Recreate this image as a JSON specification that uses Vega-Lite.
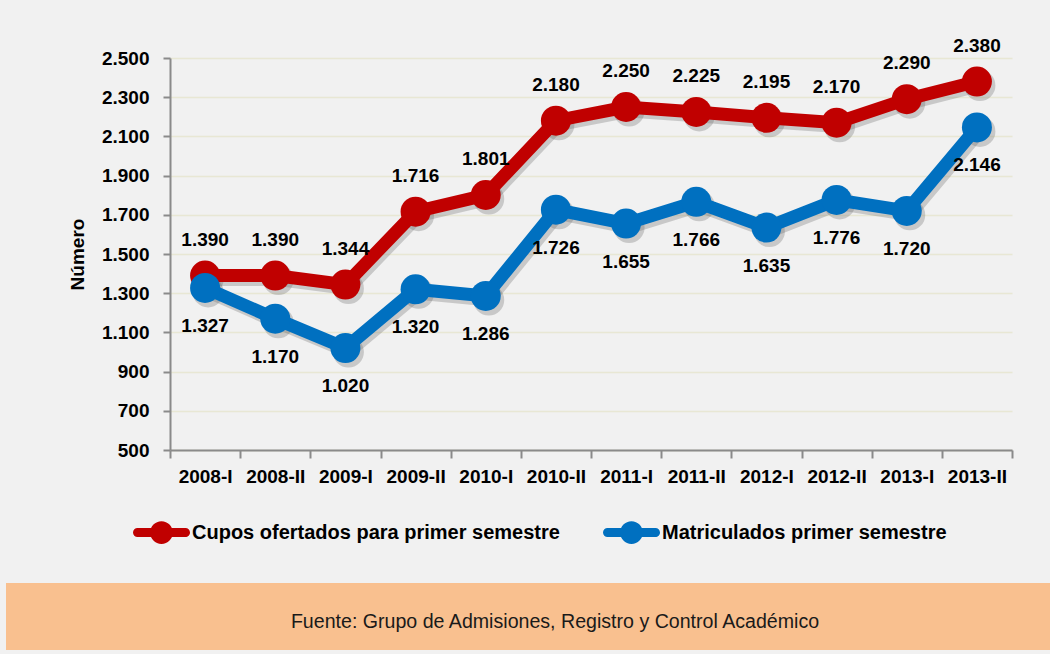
{
  "$schema": "https://vega.github.io/schema/vega-lite/v6.json",
  "background": "#f1f1f1",
  "padding": {"left": 6, "top": 36, "right": 0, "bottom": 4},
  "config": {
    "locale": {"number": {"decimal": ",", "thousands": ".", "grouping": [3], "currency": ["$", ""]}},
    "view": {"stroke": null},
    "font": "Liberation Sans",
    "legend": {
      "orient": "none",
      "legendX": -37,
      "legendY": 446,
      "direction": "horizontal",
      "symbolType": "M -0.84 -0.16 L 0.84 -0.16 A 0.16 0.16 0 0 1 0.84 0.16 L -0.84 0.16 A 0.16 0.16 0 0 1 -0.84 -0.16 Z M 0 -0.4 A 0.4 0.4 0 1 1 0 0.4 A 0.4 0.4 0 1 1 0 -0.4 Z",
      "symbolSize": 3249,
      "symbolStrokeWidth": 0,
      "symbolOpacity": 1,
      "labelFontSize": 20,
      "labelFontWeight": "bold",
      "labelColor": "#000000",
      "labelOffset": 2,
      "labelLimit": 600,
      "columnPadding": 43
    }
  },
  "spacing": 39,
  "resolve": {"legend": {"fill": "independent", "stroke": "independent"}, "scale": {"fill": "independent", "stroke": "independent"}},
  "vconcat": [
    {
      "spacing": 0,
      "resolve": {"legend": {"fill": "independent", "stroke": "independent"}, "scale": {"fill": "independent", "stroke": "independent"}},
      "hconcat": [
        {
          "width": 62,
          "height": 10,
          "data": {"values": [{}]},
          "mark": {"type": "text"},
          "encoding": {"text": {"value": ""}}
        },
        {
          "width": 842,
          "height": 392,
          "data": {
            "values": [
              {"periodo": "2008-I", "serie": "Cupos ofertados para primer semestre", "valor": 1390},
              {"periodo": "2008-II", "serie": "Cupos ofertados para primer semestre", "valor": 1390},
              {"periodo": "2009-I", "serie": "Cupos ofertados para primer semestre", "valor": 1344},
              {"periodo": "2009-II", "serie": "Cupos ofertados para primer semestre", "valor": 1716},
              {"periodo": "2010-I", "serie": "Cupos ofertados para primer semestre", "valor": 1801},
              {"periodo": "2010-II", "serie": "Cupos ofertados para primer semestre", "valor": 2180},
              {"periodo": "2011-I", "serie": "Cupos ofertados para primer semestre", "valor": 2250},
              {"periodo": "2011-II", "serie": "Cupos ofertados para primer semestre", "valor": 2225},
              {"periodo": "2012-I", "serie": "Cupos ofertados para primer semestre", "valor": 2195},
              {"periodo": "2012-II", "serie": "Cupos ofertados para primer semestre", "valor": 2170},
              {"periodo": "2013-I", "serie": "Cupos ofertados para primer semestre", "valor": 2290},
              {"periodo": "2013-II", "serie": "Cupos ofertados para primer semestre", "valor": 2380},
              {"periodo": "2008-I", "serie": "Matriculados primer semestre", "valor": 1327},
              {"periodo": "2008-II", "serie": "Matriculados primer semestre", "valor": 1170},
              {"periodo": "2009-I", "serie": "Matriculados primer semestre", "valor": 1020},
              {"periodo": "2009-II", "serie": "Matriculados primer semestre", "valor": 1320},
              {"periodo": "2010-I", "serie": "Matriculados primer semestre", "valor": 1286},
              {"periodo": "2010-II", "serie": "Matriculados primer semestre", "valor": 1726},
              {"periodo": "2011-I", "serie": "Matriculados primer semestre", "valor": 1655},
              {"periodo": "2011-II", "serie": "Matriculados primer semestre", "valor": 1766},
              {"periodo": "2012-I", "serie": "Matriculados primer semestre", "valor": 1635},
              {"periodo": "2012-II", "serie": "Matriculados primer semestre", "valor": 1776},
              {"periodo": "2013-I", "serie": "Matriculados primer semestre", "valor": 1720},
              {"periodo": "2013-II", "serie": "Matriculados primer semestre", "valor": 2146}
            ]
          },
          "encoding": {
            "x": {
              "field": "periodo",
              "type": "nominal",
              "sort": ["2008-I", "2008-II", "2009-I", "2009-II", "2010-I", "2010-II", "2011-I", "2011-II", "2012-I", "2012-II", "2013-I", "2013-II"],
              "scale": {"type": "band", "paddingInner": 0, "paddingOuter": 0},
              "axis": {
                "title": null,
                "labelAngle": 0,
                "labelFontSize": 19,
                "labelFontWeight": "bold",
                "labelColor": "#000000",
                "labelPadding": 9,
                "tickBand": "extent",
                "tickSize": 8,
                "tickWidth": 2,
                "tickColor": "#8a8a8a",
                "domainColor": "#8a8a8a",
                "domainWidth": 2,
                "grid": false,
                "zindex": 0
              }
            },
            "y": {
              "field": "valor",
              "type": "quantitative",
              "scale": {"domain": [500, 2500], "nice": false, "zero": false},
              "axis": {
                "title": "Número",
                "titleFontSize": 19,
                "titleFontWeight": "bold",
                "titleColor": "#000000",
                "titlePadding": 14,
                "values": [500, 700, 900, 1100, 1300, 1500, 1700, 1900, 2100, 2300, 2500],
                "format": ",d",
                "labelFontSize": 19,
                "labelFontWeight": "bold",
                "labelColor": "#000000",
                "labelPadding": 14,
                "tickSize": 7,
                "tickWidth": 2,
                "tickColor": "#8a8a8a",
                "domainColor": "#8a8a8a",
                "domainWidth": 2,
                "grid": true,
                "gridColor": "#e8e7d4",
                "gridWidth": 1.5,
                "zindex": 0
              }
            }
          },
          "layer": [
            {
              "mark": {"type": "line", "strokeWidth": 13, "color": "#6b6b6b", "opacity": 0.3, "xOffset": 3, "yOffset": 4},
              "encoding": {"detail": {"field": "serie", "type": "nominal"}}
            },
            {
              "mark": {"type": "point", "filled": true, "shape": "circle", "size": 960, "color": "#6b6b6b", "opacity": 0.3, "xOffset": 3, "yOffset": 4},
              "encoding": {}
            },
            {
              "mark": {"type": "line", "strokeWidth": 13},
              "encoding": {
                "stroke": {
                  "field": "serie",
                  "type": "nominal",
                  "title": null,
                  "scale": {"domain": ["Cupos ofertados para primer semestre", "Matriculados primer semestre"], "range": ["#c00000", "#0070c0"]}
                }
              }
            },
            {
              "mark": {"type": "point", "filled": true, "shape": "circle", "size": 900, "opacity": 1},
              "encoding": {
                "fill": {
                  "field": "serie",
                  "type": "nominal",
                  "title": null,
                  "scale": {"domain": ["Cupos ofertados para primer semestre", "Matriculados primer semestre"], "range": ["#c00000", "#0070c0"]}
                }
              }
            },
            {
              "transform": [{"filter": "datum.serie === 'Cupos ofertados para primer semestre'"}],
              "mark": {"type": "text", "dy": -36, "fontSize": 19, "fontWeight": "bold", "color": "#000000"},
              "encoding": {"text": {"field": "valor", "type": "quantitative", "format": ",d"}}
            },
            {
              "transform": [{"filter": "datum.serie === 'Matriculados primer semestre'"}],
              "mark": {"type": "text", "dy": 38, "fontSize": 19, "fontWeight": "bold", "color": "#000000"},
              "encoding": {"text": {"field": "valor", "type": "quantitative", "format": ",d"}}
            }
          ]
        }
      ]
    },
    {
      "width": 1044,
      "height": 67,
      "view": {"fill": "#f9c08f", "stroke": null},
      "data": {"values": [{}]},
      "mark": {"type": "text", "fontSize": 19.6, "color": "#1a1a1a", "dx": 27, "dy": 5},
      "encoding": {"text": {"value": "Fuente: Grupo de Admisiones, Registro y Control Académico"}}
    }
  ]
}
